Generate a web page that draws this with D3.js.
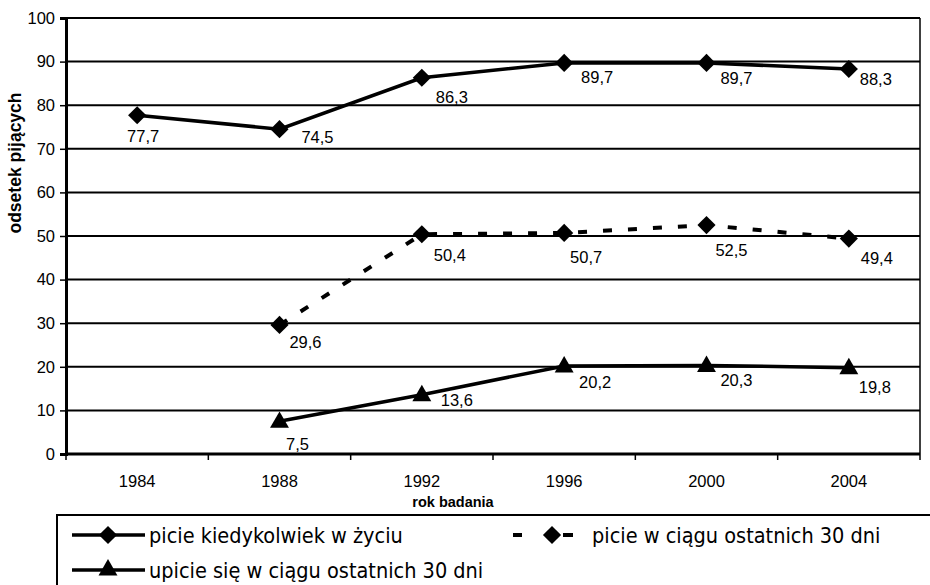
<!DOCTYPE html>
<html>
<head>
<meta charset="utf-8">
<script src="https://cdn.jsdelivr.net/npm/d3@7"></script>
<style>
  body { margin: 0; background: #fff; }
  svg { display: block; }
</style>
</head>
<body>
<div id="chart"></div>
<script>
// values
const years = ["1984", "1988", "1992", "1996", "2000", "2004"];
const everLife = [77.7, 74.5, 86.3, 89.7, 89.7, 88.3];
const last30 = [null, 29.6, 50.4, 50.7, 52.5, 49.4];
const drunk30 = [null, 7.5, 13.6, 20.2, 20.3, 19.8];
const yTicks = [0, 10, 20, 30, 40, 50, 60, 70, 80, 90, 100];

const seriesNames = ["picie kiedykolwiek w życiu", "picie w ciągu ostatnich 30 dni", "upicie się w ciągu ostatnich 30 dni"];

const series = [
  {name: seriesNames[0], values: everLife, marker: "diamond", dash: null},
  {name: seriesNames[1], values: last30, marker: "diamond", dash: "9,16"},
  {name: seriesNames[2], values: drunk30, marker: "triangle", dash: null}
];

// label nudges (Excel placed them by hand)
const nudge = [
  [[6, 27], [38, 14], [30, 25], [33, 20], [30, 21], [27, 16]],
  [null, [26, 23], [28, 27], [22, 30], [25, 31], [28, 25]],
  [null, [18, 29], [35, 11], [31, 22], [30, 21], [26, 25]]
];

const W = 930, H = 585;
const font = "Liberation Sans, Arial, sans-serif";

const svg = d3.select("#chart").append("svg")
  .attr("width", W)
  .attr("height", H);

const x = d3.scaleBand()
  .domain(years)
  .range([66, 920])
  .padding(0);

const y = d3.scaleLinear()
  .domain([0, 100])
  .range([454, 18]);

const cx = d => x(d) + x.bandwidth() / 2;

// grid lines
svg.append("g")
  .selectAll("line")
  .data(yTicks.filter(t => t > 0))
  .enter()
  .append("line")
    .attr("x1", 66)
    .attr("x2", 920)
    .attr("y1", d => y(d))
    .attr("y2", d => y(d))
    .attr("stroke", "#000")
    .attr("stroke-width", 2);

// right border
svg.append("line")
  .attr("x1", 920).attr("x2", 920)
  .attr("y1", y(100)).attr("y2", 460)
  .attr("stroke", "#000")
  .attr("stroke-width", 1.5);

// y axis
const yAxis = d3.axisLeft(y).tickValues(yTicks).tickSize(6).tickPadding(5);
const gy = svg.append("g")
  .attr("transform", "translate(66,0)")
  .call(yAxis);
gy.select(".domain").attr("stroke-width", 3);
gy.selectAll(".tick line").attr("stroke-width", 1.5);
gy.selectAll(".tick text")
  .style("font-family", font)
  .style("font-size", "16.5px")
  .attr("fill", "#000");

// x axis: ticks on band boundaries
const gx = svg.append("g")
  .attr("transform", "translate(0,454)")
  .call(d3.axisBottom(x).tickSize(0));
gx.select(".domain").attr("stroke-width", 3).attr("d", "M66,0H920");
gx.selectAll(".tick text")
  .attr("dy", null)
  .attr("y", 33)
  .style("font-family", font)
  .style("font-size", "16.5px")
  .attr("fill", "#000");

svg.append("g")
  .selectAll("line")
  .data(years)
  .enter()
  .append("line")
    .attr("x1", d => x(d))
    .attr("x2", d => x(d))
    .attr("y1", 454)
    .attr("y2", 460)
    .attr("stroke", "#000")
    .attr("stroke-width", 1.5);

// axis titles
svg.append("text")
  .attr("x", 453)
  .attr("y", 507)
  .attr("text-anchor", "middle")
  .style("font-family", font)
  .style("font-weight", "bold")
  .style("font-size", "14.5px")
  .text("rok badania");

svg.append("text")
  .attr("transform", "translate(21,163) rotate(-90)")
  .attr("text-anchor", "middle")
  .style("font-family", font)
  .style("font-weight", "bold")
  .style("font-size", "17.5px")
  .text("odsetek pijących");

const diamond = d3.symbol().type(d3.symbolSquare).size(165);
const triangle = d3.symbol().type(d3.symbolTriangle).size(155);

const line = d3.line()
  .defined(d => d.v !== null)
  .x(d => cx(d.year))
  .y(d => y(d.v));

series.forEach((s, si) => {
  const pts = years.map((yr, i) => ({year: yr, v: s.values[i], i: i}));
  const path = svg.append("path")
    .datum(pts)
    .attr("fill", "none")
    .attr("stroke", "#000")
    .attr("stroke-width", 3.5)
    .attr("d", line);
  if (s.dash) path.attr("stroke-dasharray", s.dash).attr("stroke-width", 4);

  const valid = pts.filter(d => d.v !== null);

  svg.append("g")
    .selectAll("path")
    .data(valid)
    .enter()
    .append("path")
      .attr("d", s.marker === "diamond" ? diamond : triangle)
      .attr("transform", d => s.marker === "diamond"
        ? `translate(${cx(d.year)},${y(d.v)}) rotate(45)`
        : `translate(${cx(d.year)},${y(d.v) + 1})`)
      .attr("fill", "#000");

  svg.append("g")
    .selectAll("text")
    .data(valid)
    .enter()
    .append("text")
      .attr("x", d => cx(d.year) + nudge[si][d.i][0])
      .attr("y", d => y(d.v) + nudge[si][d.i][1])
      .attr("text-anchor", "middle")
      .style("font-family", font)
      .style("font-size", "16.5px")
      .text(d => d3.format(".1f")(d.v).replace(".", ","));
});

// legend
const lg = svg.append("g");
lg.append("path")
  .attr("d", "M57,585V515H930")
  .attr("fill", "none")
  .attr("stroke", "#000")
  .attr("stroke-width", 2);

// [line start, line end, marker x, row y, text x]
const legItems = [
  [72, 145, 108, 535, 149],
  [513, 573, 552, 535, 592],
  [72, 145, 108, 570, 149]
];

series.forEach((s, si) => {
  const [x1, x2, mx, ly, tx] = legItems[si];
  const g = lg.append("g");
  const l = g.append("line")
    .attr("x1", x1).attr("x2", x2)
    .attr("y1", ly).attr("y2", ly)
    .attr("stroke", "#000")
    .attr("stroke-width", 3.5);
  if (s.dash) l.attr("stroke-dasharray", "9,41,10").attr("stroke-width", 4);
  g.append("path")
    .attr("d", s.marker === "diamond" ? diamond : triangle)
    .attr("transform", s.marker === "diamond"
      ? `translate(${mx},${ly}) rotate(45)`
      : `translate(${mx},${ly})`)
    .attr("fill", "#000");
  g.append("text")
    .attr("x", tx)
    .attr("y", ly)
    .attr("dy", "0.35em")
    .style("font-family", "DejaVu Sans Condensed, DejaVu Sans, sans-serif")
    .style("font-size", "21.5px")
    .text(s.name);
});
</script>
</body>
</html>
